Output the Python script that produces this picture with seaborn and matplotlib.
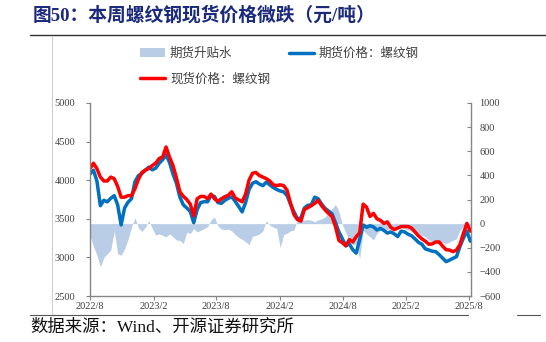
import matplotlib
matplotlib.use("Agg")
import matplotlib.pyplot as plt
import pandas as pd
import seaborn as sns
from matplotlib.lines import Line2D
from matplotlib.patches import Patch

# ---- data (10-day sampling, 2022-08-01 .. 2025-08-05) ----
dates = pd.date_range("2022-08-01", periods=111, freq="10D")

spot = [
    4150, 4220, 4150, 4040, 3990, 3990, 4040, 4020, 3920, 3780,
    3780, 3800, 3800, 3890, 4010, 4100, 4130, 4150, 4190, 4220,
    4280, 4300, 4430, 4300, 4190, 4030, 3850, 3790, 3750, 3690,
    3540, 3760, 3790, 3790, 3760, 3820, 3760, 3725, 3760, 3785,
    3805, 3850, 3770, 3745, 3720, 3820, 4000, 4090, 4100, 4060,
    4040, 4020, 3990, 3940, 3930, 3940, 3930, 3870, 3700, 3555,
    3490, 3470, 3620, 3645, 3670, 3700, 3740, 3670, 3615, 3570,
    3530, 3400, 3220, 3190, 3150, 3230, 3200, 3268, 3320, 3690,
    3650, 3530, 3570, 3500, 3480, 3440, 3460, 3390, 3360, 3380,
    3400, 3400, 3400, 3380, 3330, 3280, 3240, 3210, 3170, 3175,
    3200, 3200, 3145, 3100, 3095, 3075, 3095, 3165, 3310, 3440,
    3340,
]

futures = [
    4080, 4130, 3990, 3670, 3740, 3720, 3765, 3800, 3680, 3420,
    3640, 3715, 3760, 3980, 4060, 4085, 4130, 4170, 4135, 4155,
    4220, 4265, 4330, 4230, 4080, 3960, 3780, 3680, 3640, 3595,
    3450, 3620, 3710, 3722, 3720, 3800, 3790, 3710, 3700, 3740,
    3765, 3785, 3725, 3660, 3590, 3710, 3880, 3960, 3980, 3950,
    3930, 3975, 3940, 3905, 3880, 3860, 3850, 3800, 3690, 3590,
    3500, 3510, 3640, 3675, 3680, 3780, 3760, 3690, 3635, 3600,
    3565, 3450, 3330, 3240, 3150, 3175, 3100, 3055, 3230, 3420,
    3390, 3410, 3395, 3355, 3375, 3350, 3315, 3330, 3305, 3270,
    3340, 3330, 3300, 3280, 3240, 3195, 3170, 3110, 3096, 3080,
    3074, 3035, 2990, 2945, 2965, 2988, 3010, 3140, 3250, 3340,
    3210,
]

basis = [
    -100, -190, -260, -360, -280, -250, -220, -60, -250, -262,
    -210, -130, -30, 50, -35, -65, -30, 25, -40, -95,
    -85, -97, -110, -85, -110, -135, -140, -165, -70, -82,
    -41, -69, -55, -41, -25, 30, 55, -20, -45, -50,
    -45, -60, -90, -115, -130, -150, -175, -105, -97, -85,
    -60, 25, -14, -28, -40, -200, -90, -80, -60, -55,
    35, 30, 28, 33, 28, 15, 30, 40, 55, 85,
    125, 160, 100, -10, -75, -140, -175, -170, -290, -55,
    -85, -110, -135, -80, -55, -42, -50, -40, -35, -40,
    -28, -42, -52, -62, -60, -80, -97, -108, -135, -150,
    -165, -166, -155, -165, -152, -138, -124, -55, -22, -14,
    -28,
]

xtick_dates = ["2022-08-01", "2023-02-01", "2023-08-01", "2024-02-01",
               "2024-08-01", "2025-02-01", "2025-08-01"]
xtick_labels = ["2022/8", "2023/2", "2023/8", "2024/2", "2024/8", "2025/2", "2025/8"]
left_ticks = [2500, 3000, 3500, 4000, 4500, 5000]
right_ticks = [-600, -400, -200, 0, 200, 400, 600, 800, 1000]

legend_labels = ["期货升贴水", "现货价格：螺纹钢", "期货价格：螺纹钢"]
title_text = "图50：本周螺纹钢现货价格微跌（元/吨）"
source_text = "数据来源：Wind、开源证券研究所"

# ---- style ----
sns.set_style("white")
plt.rcParams["font.family"] = ["Liberation Serif", "Noto Sans CJK SC"]

BLUE = "#0070C0"
RED = "#FF0000"
FILL = "#BACDE7"
AXIS = "#868686"
TXT = "#404040"

W, H = 546, 342
fig = plt.figure(figsize=(W / 100, H / 100), dpi=100)
ax1 = fig.add_axes([90 / W, 1 - 296 / H, (471 - 90) / W, (296 - 103) / H])
ax2 = ax1.twinx()
ax1.set_zorder(ax2.get_zorder() + 1)
ax1.patch.set_visible(False)

df = pd.DataFrame({"date": dates, "spot": spot, "futures": futures, "basis": basis})

# basis columns on the secondary axis
ax2.fill_between(df["date"], df["basis"], 0, color=FILL, linewidth=0)

# price lines on the primary axis
sns.lineplot(data=df, x="date", y="futures", ax=ax1, color=BLUE, linewidth=2.5)
sns.lineplot(data=df, x="date", y="spot", ax=ax1, color=RED, linewidth=2.5)

ax1.set_xlim(pd.Timestamp("2022-08-01"), pd.Timestamp("2025-08-07"))
ax1.set_ylim(2500, 5000)
ax2.set_ylim(-600, 1000)
ax1.set_yticks(left_ticks)
ax2.set_yticks(right_ticks)
ax1.set_xticks(pd.to_datetime(xtick_dates))
ax1.set_xticklabels(xtick_labels)
ax1.set_xlabel("")
ax1.set_ylabel("")
ax2.set_ylabel("")

for ax in (ax1, ax2):
    for s in ax.spines.values():
        s.set_visible(False)
ax1.spines["left"].set_visible(True)
ax1.spines["bottom"].set_visible(True)
ax2.spines["right"].set_visible(True)
for s in (ax1.spines["left"], ax1.spines["bottom"], ax2.spines["right"]):
    s.set_color(AXIS)
    s.set_linewidth(1.0)

ax1.tick_params(axis="y", left=True, direction="out", length=3, width=0.8,
                color=AXIS, labelsize=7.5, labelcolor=TXT, pad=7.5)
ax1.tick_params(axis="x", bottom=True, direction="out", length=3, width=0.8,
                color=AXIS, labelsize=7.5, labelcolor=TXT, pad=1)
ax2.tick_params(axis="y", right=True, direction="in", length=3, width=0.8,
                color=AXIS, labelsize=7.5, labelcolor=TXT, pad=6)
ax1.grid(False)
ax2.grid(False)

handles = [Patch(facecolor=FILL, edgecolor="none"),
           Line2D([], [], color=RED, linewidth=2.5),
           Line2D([], [], color=BLUE, linewidth=2.5)]
fig.legend(handles, legend_labels, ncol=2, loc="upper left",
           bbox_to_anchor=(140 / W, 1 - 47 / H), frameon=False,
           prop={"family": ["Noto Sans CJK SC"], "size": 9},
           labelcolor=TXT, handlelength=2.0, handletextpad=0.4,
           columnspacing=1.5, labelspacing=1.0, borderpad=0, borderaxespad=0)

# header, footer and frame rules
fig.text(33 / W, 1 - 15 / H, title_text, fontsize=13.5, fontweight="bold",
         color="#1B2A7B", ha="left", va="center",
         family=["Liberation Serif", "Noto Sans CJK SC"])
fig.text(30 / W, 1 - 328 / H, source_text, fontsize=12.5, color="#111111",
         ha="left", va="center", family=["Liberation Serif", "Noto Sans CJK SC"])

fig.add_artist(Line2D([30 / W, 1.0], [1 - 35 / H] * 2, transform=fig.transFigure,
                      color="#333333", linewidth=1.0))
fig.add_artist(Line2D([52 / W] * 2, [1 - 36 / H, 1 - 314 / H], transform=fig.transFigure,
                      color="#CFCFCF", linewidth=0.8))
fig.add_artist(Line2D([30 / W, 468 / W], [1 - 315 / H] * 2, transform=fig.transFigure,
                      color="#555555", linewidth=0.8))
fig.add_artist(Line2D([517 / W, 540 / W], [1 - 315 / H] * 2, transform=fig.transFigure,
                      color="#555555", linewidth=0.8))

fig.savefig("out.png", dpi=100)
